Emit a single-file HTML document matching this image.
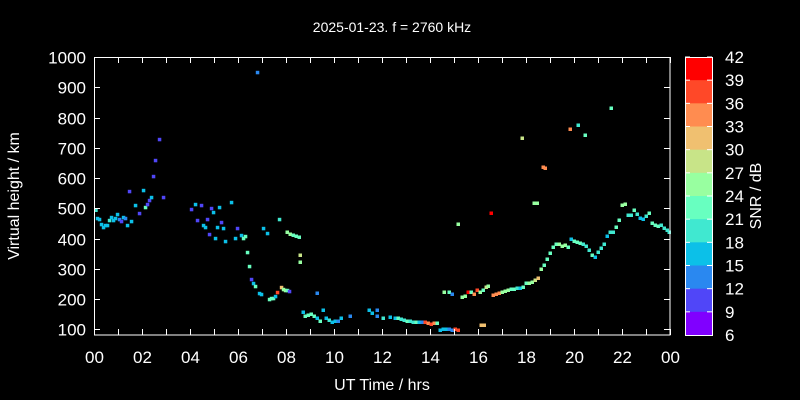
<!DOCTYPE html>
<html><head><meta charset="utf-8"><style>
html,body{margin:0;padding:0;background:#000}
svg{display:block}
text{font-family:"Liberation Sans",sans-serif;fill:#fff}
</style></head><body>
<svg id="s" width="800" height="400" xmlns="http://www.w3.org/2000/svg">
<rect width="800" height="400" fill="#000"/>
<text x="392" y="32" font-size="14" text-anchor="middle">2025-01-23. f = 2760 kHz</text>
<text x="382" y="390" font-size="16" text-anchor="middle">UT Time / hrs</text>
<text transform="translate(19,196) rotate(-90)" font-size="16" text-anchor="middle">Virtual height / km</text>
<text transform="translate(761,196) rotate(-90)" font-size="16" text-anchor="middle">SNR / dB</text>
<g id="pts"></g>
<rect x="94.5" y="57.5" width="575.5" height="277.5" fill="none" stroke="#fff" stroke-width="1"/>
<g id="ax" stroke="#fff" stroke-width="1"></g>
<g id="lab" font-size="17"></g>
<g id="cb"></g>
</svg>
<script>
var NS="http://www.w3.org/2000/svg";
function el(p,t,a,tx){var e=document.createElementNS(NS,t);for(var k in a)e.setAttribute(k,a[k]);if(tx!=null)e.textContent=tx;document.getElementById(p).appendChild(e);}
var col={6:"#8000ff",9:"#5046f8",12:"#2a88f0",15:"#0cc0e8",18:"#40e8d0",21:"#68ffc0",24:"#98ffa0",27:"#c8e488",30:"#f0c070",33:"#ff8c50",36:"#ff4828",39:"#ff0000"};
for(var v=100;v<=1000;v+=100){var y=57+(1000-v)*0.3026;y=Math.round(y)+0.5;
el("ax","line",{x1:94,x2:100,y1:y,y2:y});el("ax","line",{x1:664,x2:670,y1:y,y2:y});
el("lab","text",{x:86,y:y+6,"text-anchor":"end"},String(v));}
for(var h=0;h<=24;h++){var x=Math.round(94+h*24)+0.5;
el("ax","line",{x1:x,x2:x,y1:335,y2:329});el("ax","line",{x1:x,x2:x,y1:57,y2:63});
if(h%2==0)el("lab","text",{x:x,y:363,"text-anchor":"middle"},(h%24<10?"0":"")+(h%24));}
var keys=[39,36,33,30,27,24,21,18,15,12,9,6];var ch=278/12;
for(var i=0;i<12;i++){el("cb","rect",{x:685,y:57+i*ch,width:27,height:ch+0.5,fill:col[keys[i]]});
el("cb","line",{x1:685,x2:690,y1:57+i*ch,y2:57+i*ch,stroke:"#fff"});el("cb","line",{x1:707,x2:712,y1:57+i*ch,y2:57+i*ch,stroke:"#fff"});}
el("cb","rect",{x:685.5,y:57.5,width:27,height:278,fill:"none",stroke:"#fff"});
var lv=[42,39,36,33,30,27,24,21,18,15,12,9,6];
for(var i=0;i<13;i++)el("lab","text",{x:725,y:57+i*ch+6},String(lv[i]));
var z=[[167,510,18],[172,535,15],[178,538,15],[184,553,15],[190,562,15],[196,556,15],[202,556,15],[208,541,18],[214,532,15],[220,541,15],[226,535,15],[232,523,15],[238,538,12],[244,544,9],[250,532,15],[256,535,12],[262,556,15],[268,454,9],[274,544,15],[286,496,15],[298,520,9],[310,451,15],[316,502,21],[322,493,9],[328,481,9],[334,472,15],[340,409,9],[346,361,9],[358,298,9],[370,472,9],[454,508,9],[466,493,15],[472,541,9],[484,496,9],[490,556,15],[496,562,15],[502,538,9],[508,583,9],[514,505,9],[520,517,15],[526,595,15],[532,562,15],[538,502,15],[544,547,9],[550,565,15],[556,604,15],[574,487,15],[586,595,15],[592,565,9],[604,586,15],[610,595,21],[616,589,21],[622,637,21],[628,679,21],[634,718,9],[640,730,15],[646,739,21],[652,97,12],[658,760,15],[664,763,15],[670,565,15],[682,580,15],[688,778,21],[694,775,21],[700,775,21],[706,769,15],[712,757,36],[718,538,18],[724,742,30],[730,748,24],[736,751,24],[742,751,21],[748,754,9]];
var P=[];z.forEach(function(p){P.push([40+p[0]/3,40+p[1]/3,p[2]]);});
var m=[[287,232,24],[290,234,24],[293,235,21],[296,236,21],[299,237,21],[300,255,27],[300,262,24],[303,312,15],[305,316,21],[308,315,21],[311,314,21],[314,316,21],[317,318,15],[320,321,21],[317,293,12],[323,310,15],[326,318,15],[329,320,18],[332,322,15],[335,321,15],[338,321,12],[341,318,15],[350,316,12],[369,310,15],[372,313,15],[377,310,12],[377,316,12],[383,318,18],[390,317,15],[395,318,15],[398,318,21],[401,319,18],[404,320,18],[407,321,21],[410,321,18],[413,322,18],[416,322,21],[419,322,15],[422,322,12],[425,322,36],[428,323,33],[431,324,36],[434,323,33],[437,323,21],[440,330,15],[443,329,15],[446,329,15],[449,329,12],[452,330,12],[455,329,36],[458,330,36],[444,292,24],[449,292,21],[452,294,12],[458,224,24],[462,297,24],[465,296,24],[468,292,39],[471,292,21],[474,294,33],[477,290,36],[480,292,24],[483,290,21],[486,287,27],[488,286,24],[491,213,39],[481,325,30],[484,325,30],[493,295,33],[496,294,33],[499,293,33],[502,292,24],[505,291,24],[508,290,24],[511,289,21],[514,289,21],[517,288,18],[520,288,15],[523,287,21],[526,283,21],[529,283,24],[532,282,24],[535,280,27],[538,278,30],[541,269,24],[544,265,21],[547,259,21],[550,253,21],[553,247,21],[556,244,21],[559,244,24],[562,246,24],[565,245,24],[568,247,21],[571,239,15],[574,241,21],[577,242,21],[580,243,21],[583,244,18],[586,246,18],[589,250,18],[592,255,21],[595,257,15],[598,252,18],[601,248,18],[604,244,18],[607,236,15],[610,232,18],[613,232,18],[616,227,21],[619,220,21],[622,205,24],[625,204,24],[628,215,18],[631,215,18],[634,210,21],[637,214,18],[640,218,15],[643,219,15],[646,216,18],[649,213,21],[652,223,21],[655,225,21],[658,226,21],[661,225,18],[664,228,18],[667,230,18],[669,232,18],[522,138,27],[534,203,24],[537,203,24],[543,167,33],[545,168,33],[570,129,33],[578,125,18],[585,135,21],[611,108,21]];
P=P.concat(m);
P.forEach(function(p){el("pts","rect",{x:(p[0]-1.5).toFixed(1),y:(p[1]-1.5).toFixed(1),width:3.5,height:3.5,fill:col[p[2]]||"#0cc0e8"});});
</script>
</body></html>
